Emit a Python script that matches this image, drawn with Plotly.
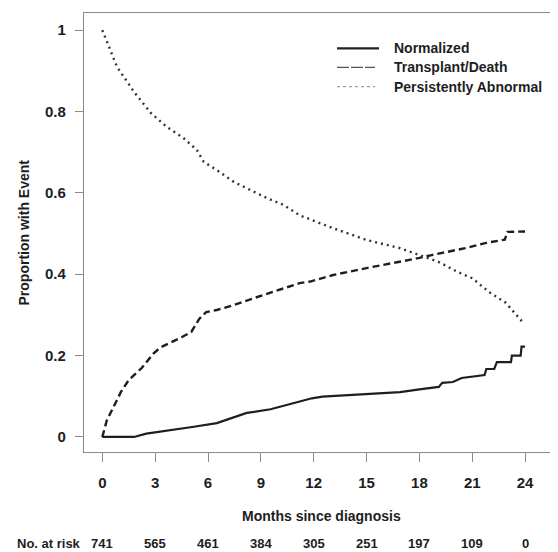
import plotly.graph_objects as go

# ---- data ----
months_ticks = [0, 3, 6, 9, 12, 15, 18, 21, 24]
at_risk = [741, 565, 461, 384, 305, 251, 197, 109, 0]

norm_x = [0, 1.8, 2.5, 3.7, 5.2, 6.5, 7.45, 8.2, 9.55, 10.1, 11.0, 11.9, 12.5, 14.8, 16.9, 18.0,
          19.1, 19.3, 19.9, 20.4, 21.4, 21.7, 21.8, 22.25, 22.4, 23.2, 23.25, 23.75, 23.8, 24.0]
norm_y = [0, 0, 0.008, 0.015, 0.025, 0.034, 0.047, 0.059, 0.068, 0.074, 0.085, 0.095, 0.099, 0.105, 0.110, 0.117,
          0.123, 0.133, 0.135, 0.145, 0.150, 0.152, 0.167, 0.167, 0.184, 0.184, 0.200, 0.200, 0.222, 0.222]

tx_x = [0, 0.25, 0.65, 1.05, 1.5, 2.25, 2.9, 3.3, 4.5, 5.05, 5.5, 5.9, 6.5, 7.45, 8.8, 10.3, 11.2, 11.8,
        12.6, 13.1, 15.0, 16.9, 18.0, 18.7, 20.6, 21.8, 22.85, 23.0, 24.0]
tx_y = [0, 0.04, 0.075, 0.11, 0.14, 0.17, 0.205, 0.22, 0.245, 0.258, 0.29, 0.307, 0.312, 0.324, 0.344, 0.366,
        0.378, 0.382, 0.393, 0.398, 0.415, 0.430, 0.440, 0.447, 0.464, 0.477, 0.485, 0.504, 0.505]

pa_x = [0, 0.83, 1.8, 2.76, 3.66, 4.6, 5.37, 5.76, 6.5, 7.46, 8.4, 9.35, 10.3, 11.2, 11.9, 13.1, 15.0,
        16.9, 18.0, 19.1, 20.2, 21.0, 22.0, 22.9, 23.85]
pa_y = [1.0, 0.91, 0.848, 0.796, 0.762, 0.735, 0.705, 0.676, 0.656, 0.627, 0.607, 0.587, 0.570, 0.545, 0.533,
        0.513, 0.484, 0.464, 0.447, 0.430, 0.405, 0.390, 0.355, 0.330, 0.283]

series_names = ["Normalized", "Transplant/Death", "Persistently Abnormal"]

FONT = "Liberation Sans, Arial, sans-serif"
INK = "#1e1e1e"
AXIS = "#8a8a8a"

# page body has an 8px margin; plot area spans x 84..558, y 13..452 in the window
PW, PH = 474, 439
def px(x):
    return (x - 84) / PW
def py(y):
    return (452 - y) / PH

trace_lines = [dict(color=INK, width=2.2),
               dict(color=INK, width=2.4, dash="7px,4px"),
               dict(color="#333333", width=2.4, dash="2px,4px")]
legend_lines = [dict(color="#222222", width=2.2),
                dict(color="#555555", width=1.2, dash="12px,2px"),
                dict(color="#888888", width=1.0, dash="3px,3px")]

fig = go.Figure()
for name, xs, ys, ln in zip(series_names, [norm_x, tx_x, pa_x], [norm_y, tx_y, pa_y], trace_lines):
    fig.add_trace(go.Scatter(x=xs, y=ys, mode="lines", name=name, line=ln, showlegend=False))

# manual legend
leg_rows = [48.3, 67.3, 86.7]
leg_ends = [379, 375, 375]
for name, yrow, xend, ln in zip(series_names, leg_rows, leg_ends, legend_lines):
    fig.add_shape(type="line", xref="paper", yref="paper", x0=px(337), x1=px(xend),
                  y0=py(yrow), y1=py(yrow), line=ln)
    fig.add_annotation(text=name, xref="paper", yref="paper", x=px(392), y=py(yrow),
                       xanchor="left", yanchor="middle", showarrow=False, font=dict(size=14))

# x-axis title and at-risk row
fig.add_annotation(text="Months since diagnosis", xref="paper", yref="paper", x=0.5, y=py(516),
                   yanchor="middle", showarrow=False, font=dict(size=14))
fig.add_annotation(text="No. at risk", xref="paper", yref="paper", x=px(15), y=py(543),
                   xanchor="left", yanchor="middle", showarrow=False, font=dict(size=13))
for m, n in zip(months_ticks, at_risk):
    fig.add_annotation(text=str(n), xref="x", yref="paper", x=m, y=py(543), xanchor="center",
                       yanchor="middle", showarrow=False, font=dict(size=13))
fig.add_annotation(text="Proportion with Event", xref="paper", yref="paper", x=px(23), y=0.5,
                   textangle=-90, xanchor="center", yanchor="middle", showarrow=False, font=dict(size=14))

fig.update_layout(
    width=550, height=544,
    margin=dict(l=76, r=0, t=5, b=100),
    paper_bgcolor="white", plot_bgcolor="white",
    font=dict(family=FONT, color=INK, size=14, weight="bold"),
    showlegend=False,
    xaxis=dict(range=[-1.04, 25.87], tickvals=months_ticks, showgrid=False, zeroline=False,
               showline=True, linecolor=AXIS, linewidth=1.2, mirror=True,
               ticks="outside", ticklen=9, tickcolor=AXIS, tickwidth=1.2,
               tickfont=dict(size=15), ticklabelstandoff=8),
    yaxis=dict(range=[-0.037, 1.042], tickvals=[0, 0.2, 0.4, 0.6, 0.8, 1],
               ticktext=["0", "0.2", "0.4", "0.6", "0.8", "1"], showgrid=False, zeroline=False,
               showline=True, linecolor=AXIS, linewidth=1.2,
               ticks="outside", ticklen=8, tickcolor=AXIS, tickwidth=1.2,
               tickfont=dict(size=15), ticklabelstandoff=6),
)

fig.write_html("out.html")
